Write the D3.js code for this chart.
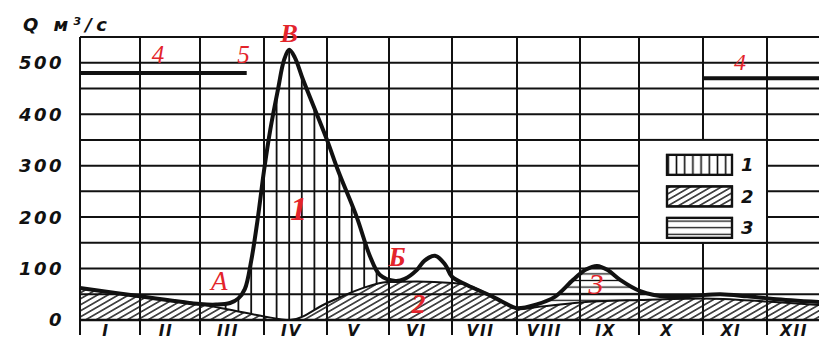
<!DOCTYPE html>
<html>
<head>
<meta charset="utf-8">
<script src="https://cdn.jsdelivr.net/npm/d3@7/dist/d3.min.js"></script>
<style>
  html, body { margin: 0; padding: 0; background: #fff; }
  svg { display: block; }
  .num { font-family: "DejaVu Sans", sans-serif; font-weight: bold; font-style: italic; fill: #111; }
  .mark { font-family: "Liberation Serif", "DejaVu Serif", serif; font-style: italic; fill: #e3242b; }
</style>
</head>
<body>
<svg id="chart" width="819" height="341"></svg>
<script>
// Month names (Roman numerals) along the time axis
const months = ["I", "II", "III", "IV", "V", "VI", "VII", "VIII", "IX", "X", "XI", "XII"];

// Discharge tick labels, m³/s
const qTicks = [0, 100, 200, 300, 400, 500];

// Total river discharge (hydrograph): time in months from 1 January, Q in m³/s
const flowMonth = [0, 1, 2, 2.25, 2.47, 2.6, 2.7, 2.8, 2.9, 3.0, 3.1, 3.22, 3.32, 3.4, 3.49, 3.62, 4.0, 4.18, 4.48, 4.69, 4.85, 5.1, 5.25, 5.44, 5.56, 5.73, 5.89, 6.0, 6.23, 6.63, 6.94, 7.0, 7.3, 7.6, 7.89, 8.1, 8.29, 8.47, 8.68, 9.02, 9.44, 9.84, 10.27, 10.69, 11.1, 11.84];
const flowQ     = [62, 46, 31, 30, 33, 42, 60, 115, 195, 290, 370, 447, 506, 525, 510, 467, 350, 290, 200, 125, 88, 76, 80, 97, 115, 125, 108, 84, 68, 45, 25, 23, 30, 45, 78, 98, 105, 97, 78, 56, 45, 47, 50, 46, 41, 35];

// Groundwater (base) flow
const baseMonth = [0, 1, 2, 2.25, 2.47, 3.0, 3.41, 4.0, 4.53, 4.97, 5.44, 6.0, 6.23, 6.63, 6.94, 7.0, 7.37, 8.0, 9.02, 10.0, 11.0, 11.84];
const baseQ     = [62, 46, 31, 25, 20, 7, 0, 33, 60, 74, 75, 72, 68, 45, 25, 21, 26, 34, 39, 42, 36, 29];

// Spring flood (1) and rain flood (3) spans, months
const springSpan = [2.25, 4.97];
const rainSpan = [7.1, 9.3];

// Reference level (4): Q, start month, end month
const levelQ = [480, 470];
const levelFrom = [0, 10];
const levelTo = [2.73, 12];

// Legend entries
const legendKeys = ["1", "2", "3"];

const svg = d3.select("#chart");
const W = 819, H = 341;

// Hand-ruled month columns are slightly uneven, so the scale follows each column edge
const x = d3.scaleLinear()
  .domain(d3.range(13))
  .range([80, 140, 200, 264, 327, 389, 452, 517, 580, 639, 703, 767, 829]);
const y = d3.scaleLinear().domain([0, 550]).range([320, 37]);

const flow = flowMonth.map((m, i) => [m, flowQ[i]]);
const base = baseMonth.map((m, i) => [m, baseQ[i]]);

// ---- hatch patterns
const defs = svg.append("defs");
defs.append("pattern")
  .attr("id", "diag").attr("patternUnits", "userSpaceOnUse")
  .attr("width", 10).attr("height", 5.2)
  .attr("patternTransform", "rotate(-30)")
  .append("line").attr("x1", 0).attr("x2", 10).attr("y1", 2.6).attr("y2", 2.6)
  .attr("stroke", "#111").attr("stroke-width", 1.4);
defs.append("pattern")
  .attr("id", "horiz").attr("patternUnits", "userSpaceOnUse")
  .attr("width", 10).attr("height", 6.6)
  .append("line").attr("x1", 0).attr("x2", 10).attr("y1", 3.3).attr("y2", 3.3)
  .attr("stroke", "#111").attr("stroke-width", 1.3);
defs.append("pattern")
  .attr("id", "vert").attr("patternUnits", "userSpaceOnUse")
  .attr("width", 8.2).attr("height", 10)
  .append("line").attr("x1", 4.1).attr("x2", 4.1).attr("y1", 0).attr("y2", 10)
  .attr("stroke", "#111").attr("stroke-width", 1.6);

const flowCurve = d3.curveCatmullRom.alpha(0.5);
const baseCurve = d3.curveMonotoneX;
const areaUnder = c => d3.area().x(d => x(d[0])).y0(y(0)).y1(d => y(d[1])).curve(c);
const lineOf = c => d3.line().x(d => x(d[0])).y(d => y(d[1])).curve(c);

defs.append("clipPath").attr("id", "underFlow")
  .append("path").attr("d", areaUnder(flowCurve)(flow));
defs.append("clipPath").attr("id", "springClip")
  .append("rect")
  .attr("x", x(springSpan[0])).attr("width", x(springSpan[1]) - x(springSpan[0]))
  .attr("y", 0).attr("height", H);
defs.append("clipPath").attr("id", "rainClip")
  .append("rect")
  .attr("x", x(rainSpan[0])).attr("width", x(rainSpan[1]) - x(rainSpan[0]))
  .attr("y", 0).attr("height", H);

// ---- (1) spring flood: vertical strokes every fifth of a month
const springLines = d3.range(Math.ceil(springSpan[0] * 5), Math.floor(springSpan[1] * 5) + 1).map(k => k / 5);
svg.append("g").attr("clip-path", "url(#springClip)")
  .append("g").attr("clip-path", "url(#underFlow)")
  .selectAll("line").data(springLines).join("line")
  .attr("x1", d => x(d)).attr("x2", d => x(d))
  .attr("y1", y(550)).attr("y2", y(0))
  .attr("stroke", "#111").attr("stroke-width", 1.8);

// ---- (3) rain flood: horizontal strokes
svg.append("g").attr("clip-path", "url(#rainClip)")
  .append("path").attr("d", areaUnder(flowCurve)(flow))
  .attr("fill", "url(#horiz)");

// ---- (2) groundwater flow: white underlay then diagonal hatch
svg.append("path").attr("d", areaUnder(baseCurve)(base)).attr("fill", "#fff");
svg.append("path").attr("d", areaUnder(baseCurve)(base)).attr("fill", "url(#diag)");

// ---- grid
const grid = svg.append("g").attr("stroke", "#111");
grid.selectAll("line.h").data(d3.range(0, 551, 50)).join("line")
  .attr("class", "h")
  .attr("x1", x(0)).attr("x2", W)
  .attr("y1", d => y(d)).attr("y2", d => y(d))
  .attr("stroke-width", d => d === 0 ? 2.6 : 2);
grid.selectAll("line.v").data(d3.range(0, 12)).join("line")
  .attr("class", "v")
  .attr("x1", d => x(d)).attr("x2", d => x(d))
  .attr("y1", y(550)).attr("y2", y(0) + 15)
  .attr("stroke-width", 2);

// groundwater boundary
svg.append("path").attr("d", lineOf(baseCurve)(base))
  .attr("fill", "none").attr("stroke", "#111").attr("stroke-width", 2);

// total discharge hydrograph
svg.append("path").attr("d", lineOf(flowCurve)(flow))
  .attr("fill", "none").attr("stroke", "#111").attr("stroke-width", 4)
  .attr("stroke-linejoin", "round");

// reference level (4)
svg.append("g").selectAll("line").data(levelQ).join("line")
  .attr("x1", (d, i) => x(levelFrom[i])).attr("x2", (d, i) => Math.min(W, x(levelTo[i])))
  .attr("y1", d => y(d)).attr("y2", d => y(d))
  .attr("stroke", "#111").attr("stroke-width", 4);

// ---- axes text
svg.append("g").selectAll("text").data(qTicks).join("text")
  .attr("class", "num")
  .attr("x", 64).attr("y", d => y(d))
  .attr("dy", "0.36em")
  .attr("text-anchor", "end")
  .attr("font-size", 18)
  .attr("letter-spacing", 2.5)
  .text(d => d);

svg.append("g").selectAll("text").data(months).join("text")
  .attr("class", "num")
  .attr("x", (d, i) => x(i + 0.5) - 4).attr("y", 336)
  .attr("text-anchor", "middle")
  .attr("font-size", 15.5)
  .attr("letter-spacing", 1.5)
  .text(d => d);

svg.append("text").attr("class", "num")
  .attr("x", 23).attr("y", 31)
  .attr("font-size", 18)
  .attr("textLength", 84).attr("lengthAdjust", "spacing")
  .text("Q м³/с");

// ---- legend
const lg = svg.append("g");
lg.append("rect")
  .attr("x", x(9)).attr("y", y(350))
  .attr("width", x(11) - x(9)).attr("height", y(150) - y(350))
  .attr("fill", "#fff").attr("stroke", "#111").attr("stroke-width", 2);
const fills = ["url(#vert)", "url(#diag)", "url(#horiz)"];
const sw = lg.selectAll("g.key").data(legendKeys).join("g").attr("class", "key");
sw.append("rect")
  .attr("x", x(9) + 28).attr("y", (d, i) => y(350) + 15 + i * 31.5)
  .attr("width", 65).attr("height", 20)
  .attr("fill", "#fff").attr("stroke", "#111").attr("stroke-width", 2.2);
sw.append("rect")
  .attr("x", x(9) + 28).attr("y", (d, i) => y(350) + 15 + i * 31.5)
  .attr("width", 65).attr("height", 20)
  .attr("fill", (d, i) => fills[i]).attr("stroke", "#111").attr("stroke-width", 2.2);
sw.append("text").attr("class", "num")
  .attr("x", x(9) + 102).attr("y", (d, i) => y(350) + 25 + i * 31.5)
  .attr("dy", "0.36em").attr("font-size", 18)
  .text(d => d);

// ---- annotations
const peakIdx = d3.maxIndex(flowQ);
const notes = [
  { t: "4", m: 1.3, q: 500, s: 25, w: "normal" },
  { t: "5", m: 2.68, q: 500, s: 25, w: "normal" },
  { t: "B", m: flowMonth[peakIdx], q: flowQ[peakIdx] + 16, s: 26, w: "bold" },
  { t: "A", m: 2.3, q: 58, s: 27, w: "normal" },
  { t: "1", m: 3.55, q: 195, s: 34, w: "bold" },
  { t: "Б", m: 5.13, q: 105, s: 27, w: "bold" },
  { t: "2", m: 5.47, q: 14, s: 28, w: "bold" },
  { t: "3", m: 8.27, q: 50, s: 30, w: "normal" },
  { t: "4", m: 10.58, q: 486, s: 24, w: "normal" }
];
svg.append("g").selectAll("text").data(notes).join("text")
  .attr("class", "mark")
  .attr("x", d => x(d.m)).attr("y", d => y(d.q))
  .attr("text-anchor", "middle")
  .attr("font-size", d => d.s)
  .attr("font-weight", d => d.w)
  .text(d => d.t);
</script>
</body>
</html>
